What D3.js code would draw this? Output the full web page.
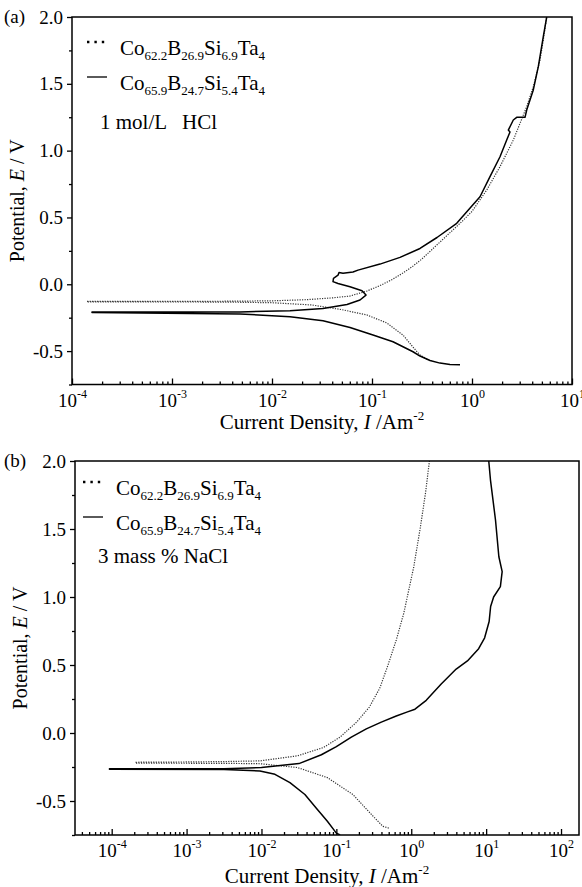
<!DOCTYPE html>
<html>
<head>
<meta charset="utf-8">
<script src="https://d3js.org/d3.v7.min.js"></script>
<style>
  body { margin: 0; background: #fff; }
</style>
</head>
<body>
<script>
// polarization curves, points are [log10(I / A m^-2), E / V]
// (a) 1 mol/L HCl
const hclAlloyA_anodic = [[-3.85,-0.128],[-3.0,-0.128],[-2.5,-0.127],[-2.0,-0.124],[-1.65,-0.115],[-1.4,-0.102],
  [-1.22,-0.088],[-1.05,-0.05],[-0.92,-0.01],[-0.8,0.035],[-0.7,0.08],[-0.6,0.13],[-0.5,0.19],[-0.4,0.26],
  [-0.3,0.33],[-0.2,0.4],[-0.1,0.47],[0.0,0.545],[0.147,0.705],[0.28,0.88],[0.413,1.079],[0.48,1.204],[0.547,1.329],
  [0.613,1.478],[0.68,1.678],[0.713,1.828],[0.747,2.0]];
const hclAlloyA_cathodic = [[-3.85,-0.132],[-2.5,-0.133],[-2.0,-0.138],[-1.6,-0.155],[-1.3,-0.19],[-1.05,-0.23],
  [-0.85,-0.29],[-0.69,-0.38],[-0.59,-0.47],[-0.52,-0.53],[-0.45,-0.56]];
const hclAlloyB_anodic = [[-3.8,-0.208],[-3.0,-0.208],[-2.32,-0.207],[-1.82,-0.198],[-1.49,-0.181],[-1.25,-0.151],
  [-1.12,-0.118],[-1.06,-0.081],[-1.10,-0.049],[-1.22,-0.019],[-1.34,0.006],[-1.39,0.02],[-1.385,0.045],
  [-1.34,0.068],[-1.33,0.088],[-1.29,0.082],[-1.19,0.092],[-1.14,0.106],[-0.92,0.151],[-0.72,0.201],
  [-0.52,0.268],[-0.35,0.35],[-0.153,0.456],[0.08,0.655],[0.18,0.805],[0.28,0.954],[0.347,1.079],[0.38,1.14],
  [0.363,1.154],[0.413,1.229],[0.447,1.249],[0.53,1.249],[0.547,1.304],[0.613,1.454],[0.663,1.628],
  [0.713,1.853],[0.747,2.0]];
const hclAlloyB_cathodic = [[-3.8,-0.212],[-2.32,-0.222],[-1.82,-0.243],[-1.49,-0.273],[-1.22,-0.323],[-0.99,-0.38],
  [-0.79,-0.43],[-0.59,-0.505],[-0.52,-0.537],[-0.42,-0.57],[-0.32,-0.59],[-0.22,-0.6],[-0.12,-0.603]];

// (b) 3 mass % NaCl
const naclAlloyA_anodic = [[-3.68,-0.215],[-3.0,-0.213],[-2.5,-0.21],[-2.02,-0.205],[-1.52,-0.168],[-1.17,-0.106],
  [-0.95,-0.03],[-0.73,0.08],[-0.56,0.19],[-0.42,0.33],[-0.31,0.5],[-0.2,0.684],[-0.1,0.88],[0.033,1.22],
  [0.123,1.517],[0.19,1.763],[0.243,2.0]];
const naclAlloyA_cathodic = [[-3.68,-0.222],[-2.5,-0.223],[-2.02,-0.226],[-1.52,-0.254],[-1.12,-0.328],
  [-0.78,-0.452],[-0.53,-0.6],[-0.38,-0.686],[-0.3,-0.699]];
const naclAlloyB_anodic = [[-4.03,-0.262],[-3.0,-0.263],[-2.5,-0.262],[-2.0,-0.254],[-1.5,-0.225],[-1.2,-0.16],
  [-1.0,-0.1],[-0.8,-0.03],[-0.6,0.03],[-0.4,0.08],[-0.2,0.125],[-0.05,0.155],[0.05,0.175],[0.2,0.24],[0.4,0.36],
  [0.6,0.47],[0.75,0.53],[0.9,0.62],[0.98,0.7],[1.04,0.82],[1.06,0.93],[1.1,1.0],[1.19,1.076],[1.214,1.186],
  [1.17,1.296],[1.125,1.566],[1.058,1.86],[1.035,2.0]];
const naclAlloyB_cathodic = [[-4.03,-0.266],[-2.5,-0.268],[-2.02,-0.279],[-1.82,-0.304],[-1.62,-0.365],
  [-1.42,-0.452],[-1.27,-0.551],[-1.12,-0.649],[-1.0,-0.736],[-0.95,-0.75]];

const legendA = [["Co",""],["62.2","sub"],["B",""],["26.9","sub"],["Si",""],["6.9","sub"],["Ta",""],["4","sub"]];
const legendB = [["Co",""],["65.9","sub"],["B",""],["24.7","sub"],["Si",""],["5.4","sub"],["Ta",""],["4","sub"]];
const yTicks = [-0.5, 0, 0.5, 1.0, 1.5, 2.0];
const yMinor = [-0.75, -0.25, 0.25, 0.75, 1.25, 1.75];
const xDecadesA = [-4, -3, -2, -1, 0, 1];
const xDecadesB = [-4, -3, -2, -1, 0, 1, 2];

const FONT = "'Liberation Serif', 'Times New Roman', Times, 'DejaVu Serif', serif";
const W = 582, H = 887;
const svg = d3.select("body").append("svg").attr("width", W).attr("height", H)
  .attr("font-family", FONT);

function drawPanel(p) {
  const g = svg.append("g");
  const x = d3.scaleLog().domain(p.xDomain).range([p.left, p.right]);
  const y = d3.scaleLinear().domain([-0.75, 2.0]).range([p.bottom, p.top]);

  // minor x ticks
  const minors = [];
  p.decades.forEach(d => { for (let m = 2; m <= 9; m++) minors.push(m * Math.pow(10, d)); });
  minors.push(...p.extraMinor);
  const xMin = minors.filter(v => v >= p.xDomain[0] && v <= p.xDomain[1]);

  const clipId = "clip" + p.id;
  g.append("clipPath").attr("id", clipId).append("rect")
    .attr("x", p.left).attr("y", p.top).attr("width", p.right - p.left).attr("height", p.bottom - p.top);

  const line = d3.line().x(d => x(Math.pow(10, d[0]))).y(d => y(d[1]));
  const curves = g.append("g").attr("clip-path", `url(#${clipId})`);
  p.series.forEach(s => {
    const pts = s.cathodic.slice().reverse().concat(s.anodic);
    curves.append("path").attr("d", line(pts)).attr("fill", "none")
      .attr("stroke", s.dotted ? "#333" : "#000")
      .attr("stroke-width", s.dotted ? 1.2 : 1.5)
      .attr("stroke-dasharray", s.dotted ? "1.2,1.3" : null)
      .attr("stroke-linejoin", "round");
  });

  // x axis
  const xMajor = p.decades.map(d => Math.pow(10, d)).filter(v => v >= p.xDomain[0] * 0.999 && v <= p.xDomain[1] * 1.001);
  const ax = g.append("g").attr("transform", `translate(0,${p.bottom})`)
    .call(d3.axisBottom(x).tickValues(xMajor).tickSize(-6).tickPadding(10).tickFormat(""));
  ax.selectAll(".tick text").each(function (d) {
    const t = d3.select(this).text(null).attr("font-size", 19).attr("dy", null).attr("y", 22);
    t.append("tspan").text("10");
    t.append("tspan").text(String(Math.round(Math.log10(d))).replace("\u2212", "-"))
      .attr("font-size", 12).attr("dy", -9);
  });
  g.append("g").attr("transform", `translate(0,${p.bottom})`)
    .call(d3.axisBottom(x).tickValues(xMin).tickSize(-3).tickFormat(""));

  // y axis
  const ay = g.append("g").attr("transform", `translate(${p.left},0)`)
    .call(d3.axisLeft(y).tickValues(yTicks).tickSize(5).tickPadding(4).tickFormat(d => d.toFixed(1)));
  ay.selectAll(".tick text").attr("font-size", 19);
  g.append("g").attr("transform", `translate(${p.left},0)`)
    .call(d3.axisLeft(y).tickValues(yMinor).tickSize(3).tickFormat(""));

  g.selectAll(".domain").remove();
  g.selectAll(".tick line").attr("stroke", "#000").attr("stroke-width", 1.3);

  g.append("rect").attr("x", p.left).attr("y", p.top)
    .attr("width", p.right - p.left).attr("height", p.bottom - p.top)
    .attr("fill", "none").attr("stroke", "#000").attr("stroke-width", 1.5);

  // titles
  const xt = g.append("text").attr("x", (p.left + p.right) / 2).attr("y", p.bottom + p.titleGap)
    .attr("text-anchor", "middle").attr("font-size", 21);
  xt.append("tspan").text("Current Density, ");
  xt.append("tspan").text("I").attr("font-style", "italic");
  xt.append("tspan").text(" /Am");
  xt.append("tspan").text("-2").attr("font-size", 13).attr("dy", -9);

  const yt = g.append("text")
    .attr("transform", `translate(${p.left - 48},${(p.top + p.bottom) / 2}) rotate(-90)`)
    .attr("text-anchor", "middle").attr("font-size", 20);
  yt.append("tspan").text("Potential, ");
  yt.append("tspan").text("E").attr("font-style", "italic");
  yt.append("tspan").text(" / V");

  g.append("text").attr("x", 4).attr("y", p.top + 6).attr("font-size", 19).text(p.label);

  // legend
  p.series.forEach((s, i) => {
    const ly = p.legendY + i * 35;
    g.append("line").attr("x1", p.legendX).attr("x2", p.legendX + 20)
      .attr("y1", ly - 13).attr("y2", ly - 13)
      .attr("stroke", "#000")
      .attr("stroke-width", s.dotted ? 2.4 : 1.3)
      .attr("stroke-dasharray", s.dotted ? "2.4,5" : null);
    const t = g.append("text").attr("x", p.legendX + 33).attr("y", ly).attr("font-size", 21);
    let down = false;
    s.name.forEach(([txt, kind]) => {
      const sp = t.append("tspan").text(txt);
      if (kind === "sub" && !down) { sp.attr("font-size", 13).attr("dy", 5); down = true; }
      else if (kind === "sub") { sp.attr("font-size", 13); }
      else if (down) { sp.attr("dy", -5); down = false; }
    });
  });
  g.append("text").attr("x", p.noteX).attr("y", p.noteY).attr("font-size", 21)
    .style("white-space", "pre").text(p.note);
}

drawPanel({
  id: "a", label: "(a)", left: 72, right: 572, top: 17, bottom: 384.5, titleGap: 44,
  xDomain: [1e-4, 10], decades: xDecadesA, extraMinor: [],
  series: [
    { name: legendA, dotted: true, anodic: hclAlloyA_anodic, cathodic: hclAlloyA_cathodic },
    { name: legendB, dotted: false, anodic: hclAlloyB_anodic, cathodic: hclAlloyB_cathodic }
  ],
  legendX: 87, legendY: 55, note: "1 mol/L   HCl", noteX: 100, noteY: 129
});

drawPanel({
  id: "b", label: "(b)", left: 75, right: 579, top: 461, bottom: 835, titleGap: 48,
  xDomain: [Math.pow(10, -4.49), Math.pow(10, 2.24)], decades: xDecadesB, extraMinor: [4e-5, 5e-5, 6e-5, 7e-5, 8e-5, 9e-5],
  series: [
    { name: legendA, dotted: true, anodic: naclAlloyA_anodic, cathodic: naclAlloyA_cathodic },
    { name: legendB, dotted: false, anodic: naclAlloyB_anodic, cathodic: naclAlloyB_cathodic }
  ],
  legendX: 83, legendY: 495, note: "3 mass % NaCl", noteX: 98, noteY: 563
});

// axis groups carry their own sans-serif font attribute; force the serif face everywhere
svg.selectAll("g").attr("font-family", null);
svg.selectAll("text").attr("font-family", FONT).style("font-family", FONT);
</script>
</body>
</html>
